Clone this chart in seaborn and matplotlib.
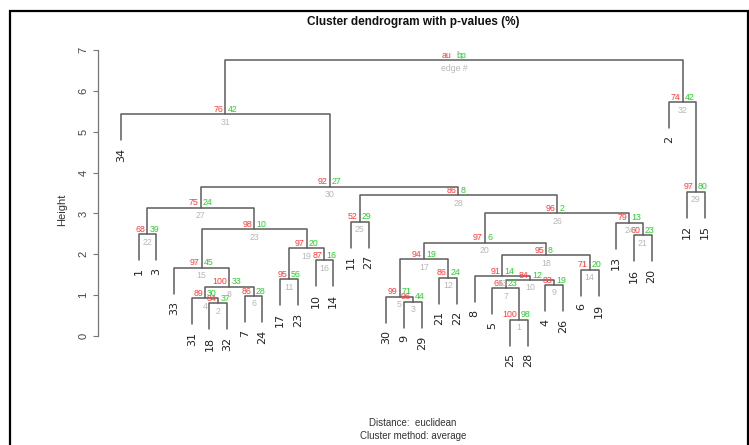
import numpy as np
import pandas as pd
import matplotlib
matplotlib.use("Agg")
import matplotlib.pyplot as plt
import seaborn as sns
from matplotlib.patches import Rectangle

# ---------------- data ----------------
leaf_order = [34, 1, 3, 33, 31, 18, 32, 7, 24, 17, 23, 10, 14, 11, 27, 30, 9, 29,
              21, 22, 8, 5, 25, 28, 4, 26, 6, 19, 13, 16, 20, 2, 12, 15]
# merge rows (edge # = row index, 1-based); negative = leaf, positive = earlier edge
merge_left = [-25, -18, -9, -31, -30, -7, -5, 4, -4, 7, -17, -21, -8, -6, -33, -10,
              5, 13, 11, 17, -16, -1, 15, -13, -11, 20, 22, 25, -12, 27, -34, -2, 31]
merge_right = [-28, -32, -29, 2, 3, -24, 1, 6, -26, 9, -23, -22, 10, -19, 8, -14,
               12, 14, 16, 18, -20, -3, 19, 21, -27, 24, 23, 26, -15, 28, 30, 29, 32]
heights = [0.40, 0.80, 0.84, 0.92, 0.96, 0.98, 1.17, 1.21, 1.25, 1.37, 1.39, 1.43,
           1.47, 1.62, 1.67, 1.85, 1.88, 1.98, 2.15, 2.28, 2.46, 2.49, 2.61, 2.77,
           2.80, 3.00, 3.14, 3.45, 3.53, 3.65, 5.43, 5.72, 6.75]
au_values = [100, 84, 96, 89, 99, 86, 66, 100, 83, 84, 95, 86, 91, 71, 97, 87, 94,
             95, 97, 97, 60, 68, 98, 79, 52, 96, 75, 86, 97, 92, 76, 74]
bp_values = [98, 37, 44, 30, 71, 28, 23, 33, 19, 12, 56, 24, 14, 20, 45, 16, 19,
             8, 20, 6, 23, 39, 10, 13, 29, 2, 24, 8, 80, 27, 42, 42]
y_ticks = [0, 1, 2, 3, 4, 5, 6, 7]

# ---------------- style ----------------
sns.set_theme(style="white")
plt.rcParams["font.family"] = ["Liberation Sans", "DejaVu Sans"]
narrow = ["Liberation Sans Narrow", "Liberation Sans", "DejaVu Sans"]

W, H = 749, 445
fig = plt.figure(figsize=(W / 100, H / 100), dpi=100)
fig.patch.set_facecolor("white")
x0p, x1p = 97.6, 728.0
ytop, ybot = 40, 400
ax = fig.add_axes([x0p / W, 1 - ybot / H, (x1p - x0p) / W, (ybot - ytop) / H])
ax.set_xlim(-0.32, 35.32)
ax.set_ylim((336 - ybot) / 40.86, (336 - ytop) / 40.86)

# ---------------- geometry from data ----------------
n = len(leaf_order)
leaf_x = {lab: i + 1 for i, lab in enumerate(leaf_order)}
hang = 0.1 * (max(heights) - min(heights))
node_x = {}
rows = []
leaf_bottom = {}
for k in range(len(heights)):
    h = heights[k]
    xs, ys = [], []
    for c in (merge_left[k], merge_right[k]):
        if c < 0:
            cx = leaf_x[-c]
            cy = h - hang
            leaf_bottom[-c] = (cx, cy)
        else:
            cx = node_x[c]
            cy = heights[c - 1]
        xs.append(cx)
        ys.append(cy)
    node_x[k + 1] = (xs[0] + xs[1]) / 2
    pts = [(xs[0], ys[0]), (xs[0], h), (xs[1], h), (xs[1], ys[1])]
    for j, (px, py) in enumerate(pts):
        rows.append({"node": k + 1, "order": j, "x": px, "y": py})
seg = pd.DataFrame(rows)

sns.lineplot(data=seg, x="x", y="y", units="node", estimator=None, sort=False,
             color="#5c5c5c", linewidth=1.1, ax=ax, legend=False)

# leaf labels
for lab, (lx, ly) in leaf_bottom.items():
    ax.annotate(str(lab), (lx, ly), xytext=(0, -5.5), textcoords="offset points",
                rotation=90, ha="center", va="top", fontsize=8, color="#222222",
                family=["DejaVu Sans"], annotation_clip=False)

# p-values
red, green, grey = "#ff3b3b", "#2ecc2e", "#b8b8b8"
for k in range(len(heights)):
    x = node_x[k + 1]
    h = heights[k]
    if k < len(au_values):
        a, b, e = str(au_values[k]), str(bp_values[k]), str(k + 1)
    else:
        a, b, e = "au", "bp", "edge #"
    ax.annotate(a, (x, h), xytext=(-1.5, 0.3), textcoords="offset points",
                ha="right", va="bottom", fontsize=6.3, color=red, family=narrow,
                annotation_clip=False)
    ax.annotate(b, (x, h), xytext=(1.5, 0.3), textcoords="offset points",
                ha="left", va="bottom", fontsize=6.3, color=green, family=narrow,
                annotation_clip=False)
    ax.annotate(e, (x, h), xytext=(0, -2.5), textcoords="offset points",
                ha="center", va="top", fontsize=6.3, color=grey, family=narrow,
                annotation_clip=False)

# axes
ax.set_xticks([])
ax.set_yticks(y_ticks)
ax.set_yticklabels([str(t) for t in y_ticks], rotation=90, va="center",
                   fontsize=8, color="#444444")
ax.tick_params(axis="y", left=True, length=3.6, width=0.8, color="#777777", pad=3)
for s in ("top", "right", "bottom"):
    ax.spines[s].set_visible(False)
ax.spines["left"].set_bounds(0, 7)
ax.spines["left"].set_color("#777777")
ax.spines["left"].set_linewidth(0.9)
ax.set_xlabel("")
ax.set_ylabel("")
ax.set_facecolor("white")

fig.text(62 / W, 1 - 210 / H, "Height", rotation=90, ha="center", va="center",
         fontsize=8, color="#333333")
fig.text(413 / W, 1 - 22 / H, "Cluster dendrogram with p-values (%)", ha="center",
         va="center", fontsize=8.5, fontweight="bold", color="#111111", family=narrow)
fig.text(413 / W, 1 - 423 / H, "Distance:  euclidean", ha="center", va="center",
         fontsize=7, color="#333333", family=narrow)
fig.text(413 / W, 1 - 436 / H, "Cluster method: average", ha="center", va="center",
         fontsize=7, color="#333333", family=narrow)

fig.patches.append(Rectangle((10 / W, -0.05), (748 - 10) / W, 1 - 11 / H + 0.05,
                             transform=fig.transFigure, fill=False, ec="black",
                             lw=1.6, zorder=10))

fig.savefig("out.png", dpi=100, facecolor="white")
